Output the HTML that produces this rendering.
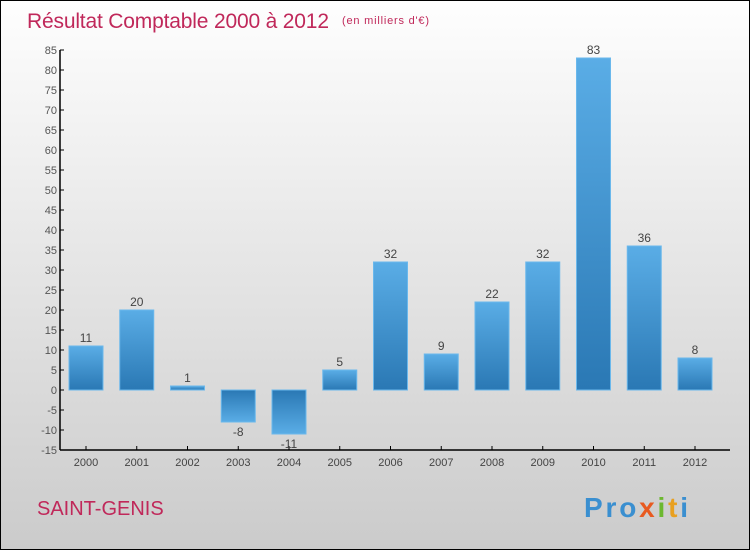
<!DOCTYPE html>
<html><head><meta charset="utf-8"><style>
body{margin:0}
#c{position:relative;width:748px;height:548px;border:1px solid #000;background:linear-gradient(#fefefe,#cbcbcb);font-family:"Liberation Sans",sans-serif;overflow:hidden}
</style></head><body>
<div id="c">
<svg width="748" height="548" id="svg">
<defs>
<linearGradient id="gp" x1="0" y1="0" x2="0" y2="1"><stop offset="0" stop-color="#5aade6"/><stop offset="1" stop-color="#2a78b4"/></linearGradient>
<linearGradient id="gn" x1="0" y1="0" x2="0" y2="1"><stop offset="0" stop-color="#2a78b4"/><stop offset="1" stop-color="#5aade6"/></linearGradient>
</defs>
<text x="26" y="27" font-size="21" fill="#c0285a" textLength="302">Résultat Comptable 2000 à 2012</text>
<text x="341" y="23" font-size="11" fill="#c0285a" textLength="87">(en milliers d'€)</text>
<text x="36" y="514" font-size="20" fill="#c0285a">SAINT-GENIS</text>
<text x="583" y="516" font-size="28" font-weight="bold" fill="#3a8fd0" textLength="104">Pro<tspan fill="#e85a20">x</tspan><tspan fill="#6cb830">i</tspan><tspan fill="#e8a020">t</tspan><tspan fill="#3a8fd0">i</tspan></text>
<g id="g"></g>
</svg>
</div>
<script>
const years=["2000","2001","2002","2003","2004","2005","2006","2007","2008","2009","2010","2011","2012"];
const values=[11,20,1,-8,-11,5,32,9,22,32,83,36,8];
const yTicks=[85,80,75,70,65,60,55,50,45,40,35,30,25,20,15,10,5,0,-5,-10,-15];
const NS="http://www.w3.org/2000/svg";
const g=document.getElementById('g');
const y=v=>389-(v)*4;
const x=i=>85+i*50.75;
function mk(t,a){const e=document.createElementNS(NS,t);for(const k in a)e.setAttribute(k,a[k]);g.appendChild(e);return e;}
let ax=mk('line',{x1:59,y1:y(85),x2:59,y2:y(-15),stroke:'#000','stroke-width':1.5});

let bx=mk('line',{x1:59,y1:y(-15),x2:729,y2:y(-15),stroke:'#000','stroke-width':1.5});

yTicks.forEach(v=>{
 let t=mk('line',{x1:59,y1:y(v),x2:63,y2:y(v),stroke:'#000'});
 
 let l=mk('text',{x:56,y:y(v)+4,'font-size':11,fill:'#555','text-anchor':'end'});l.textContent=v;
 
});
years.forEach((yr,i)=>{
 const v=values[i],cx=x(i);
 let t=mk('line',{x1:cx,y1:y(-15),x2:cx,y2:y(-15)-4,stroke:'#000'});
 
 let l=mk('text',{x:cx,y:y(-15)+16,'font-size':11,fill:'#444','text-anchor':'middle'});l.textContent=yr;
 
 const top=Math.min(y(v),y(0)),h=Math.abs(y(v)-y(0));
 let b=mk('rect',{x:cx-17,y:top,width:34,height:Math.max(h,1),fill:v>=0?'url(#gp)':'url(#gn)',stroke:'#6ab8ec','stroke-width':1});
 
 let vl=mk('text',{x:cx,y:v>=0?y(v)-4:y(v)+14,'font-size':12,fill:'#444','text-anchor':'middle'});vl.textContent=v;
 
});
</script>
</body></html>
